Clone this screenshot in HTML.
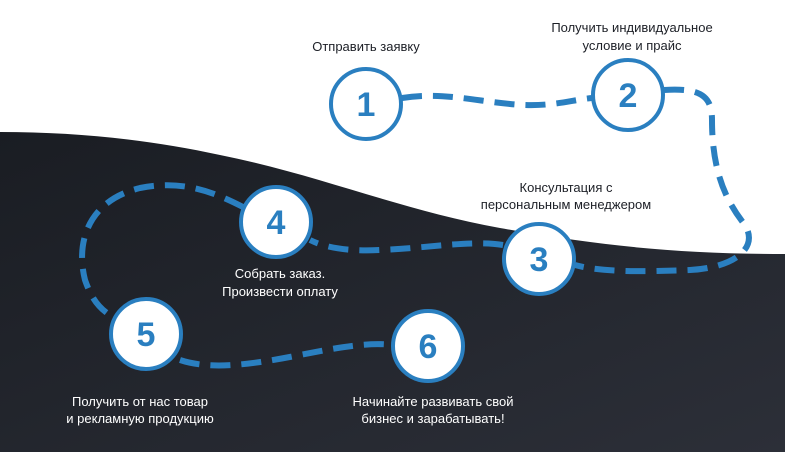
<!DOCTYPE html>
<html><head><meta charset="utf-8"><style>
body{margin:0;width:785px;height:452px;overflow:hidden;background:#fff}
svg{display:block}
text{font-family:"Liberation Sans",sans-serif;font-size:13px;text-anchor:middle}
.n{font-size:34px;font-weight:bold;fill:#2a7fc0}
</style></head><body>
<svg width="785" height="452" viewBox="0 0 785 452">
<defs><linearGradient id="g" x1="0" y1="0" x2="1" y2="1">
<stop offset="0" stop-color="#1a1d23"/><stop offset="1" stop-color="#2c2f38"/></linearGradient></defs>
<path d="M0 132 C80 132 150 140 220 155 C320 175 400 210 500 228 C600 246 680 254 785 254 L785 452 L0 452 Z" fill="url(#g)"/>
<g fill="none" stroke="#2a7fc0" stroke-width="6" stroke-dasharray="20 11">
<path d="M402 98 C440 92 470 100 510 104 C550 108 570 100 592 98"/>
<path d="M664 90 C700 88 712 95 712 120 C712 170 725 200 745 225 C760 250 730 268 690 270 C640 272 600 272 575 265"/>
<path d="M503 245 C470 240 430 248 380 250 C340 252 320 245 310 240"/>
<path d="M243 207 C210 190 180 180 140 188 C90 200 75 240 85 280 C92 300 100 310 115 318"/>
<path d="M180 360 C210 370 250 365 300 355 C340 347 370 342 392 345"/>
</g>
<g fill="#fff" stroke="#2a7fc0" stroke-width="4">
<circle cx="366" cy="104" r="35"/><circle cx="628" cy="95" r="35"/>
<circle cx="539" cy="259" r="35"/><circle cx="276" cy="222" r="35"/>
<circle cx="146" cy="334" r="35"/><circle cx="428" cy="346" r="35"/>
</g>
<text class="n" x="366" y="116">1</text><text class="n" x="628" y="107">2</text>
<text class="n" x="539" y="271">3</text><text class="n" x="276" y="234">4</text>
<text class="n" x="146" y="346">5</text><text class="n" x="428" y="358">6</text>
<g fill="#1c1f26">
<text x="366" y="51">Отправить заявку</text>
<text x="632" y="32">Получить индивидуальное</text><text x="632" y="50">условие и прайс</text>
<text x="566" y="192">Консультация с</text><text x="566" y="209">персональным менеджером</text>
</g>
<g fill="#fff">
<text x="280" y="278">Собрать заказ.</text><text x="280" y="296">Произвести оплату</text>
<text x="140" y="406">Получить от нас товар</text><text x="140" y="423">и рекламную продукцию</text>
<text x="433" y="406">Начинайте развивать свой</text><text x="433" y="423">бизнес и зарабатывать!</text>
</g>
</svg>
</body></html>
